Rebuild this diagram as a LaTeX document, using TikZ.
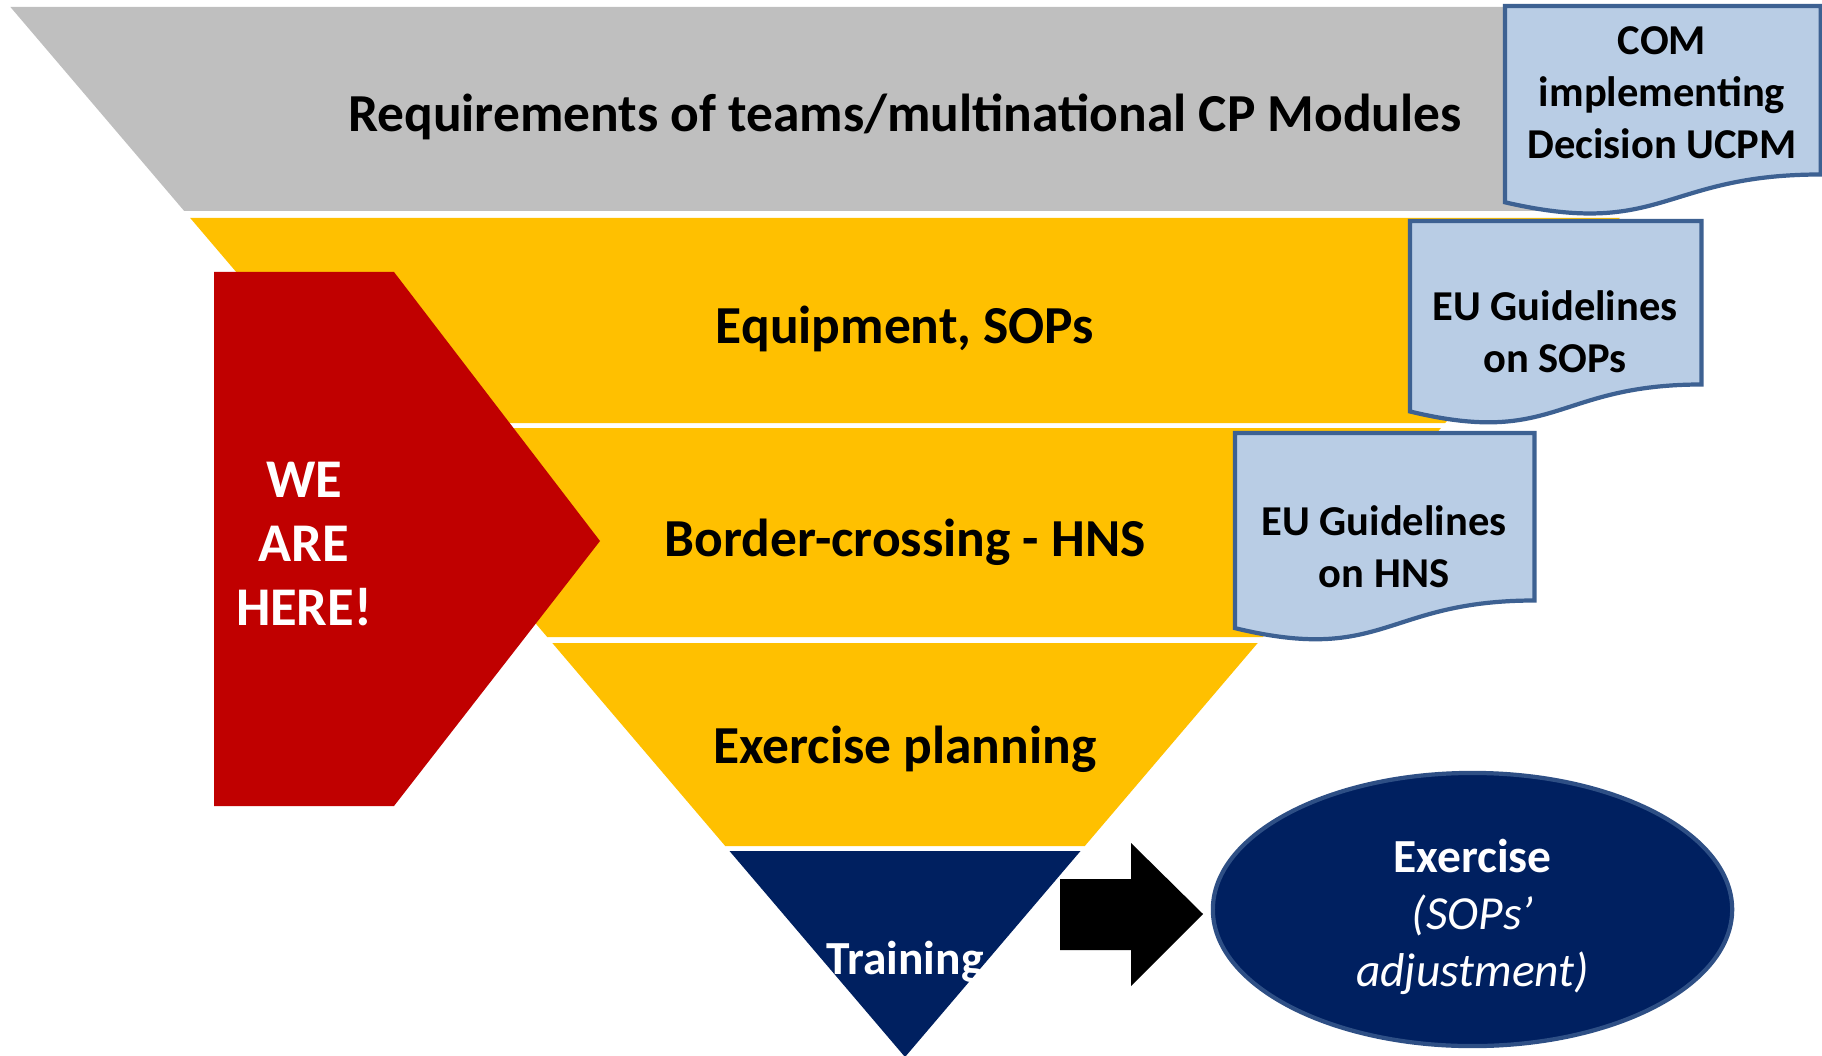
\documentclass[tikz,border=0pt]{standalone}
\usepackage{fontspec}
\setmainfont{Carlito}
\usepackage{tikz}
\usetikzlibrary{calc, shapes.geometric}
\definecolor{topgray}{HTML}{BFBFBF}
\definecolor{funnelyellow}{HTML}{FFC000}
\definecolor{herered}{HTML}{C00000}
\definecolor{navy}{HTML}{002060}
\definecolor{docfill}{HTML}{B9CDE5}
\definecolor{docedge}{HTML}{3D6192}
\definecolor{ovaledge}{HTML}{2E4F85}
\tikzset{%
    band/.style={%
        fill=funnelyellow,
    },
    bandtext/.style={%
        font=\fontsize{15.2}{18}\selectfont\bfseries,
        text=black,
        inner sep=0pt,
        text centered,
    },
    docbox/.style={%
        rectangle,
        draw=none,
        inner sep=0pt,
    },
    docshape/.style={%
        fill=docfill,
        draw=docedge,
        line width=1.2pt,
    },
    doctext/.style={%
        font=\fontsize{12.1}{14.8}\selectfont\bfseries,
        align=center,
        inner sep=0pt,
    },
    heretext/.style={%
        font=\fontsize{15.5}{18.2}\selectfont\bfseries,
        text=white,
        align=center,
        inner sep=0pt,
    },
    oval/.style={%
        ellipse,
        fill=navy,
        draw=ovaledge,
        line width=1.2pt,
        minimum width=5.19cm,
        minimum height=2.73cm,
    },
    ovaltext/.style={%
        text=white,
        align=center,
        inner sep=0pt,
        font=\fontsize{13.5}{16.3}\selectfont,
    },
}

\begin{document}
\begin{tikzpicture}[x=0.01cm, y=-0.01cm]
	\useasboundingbox (0,0) rectangle (1822,1055);

	% funnel bands
	\fill[topgray] (10.4,7) -- (1799.6,7) -- (1625.8,211) -- (184.2,211) -- cycle;
	\fill[band] (190.2,218) -- (1619.8,218) -- (1445.2,423) -- (364.8,423) -- cycle;
	\fill[band] (369.1,428) -- (1440.9,428) -- (1262.8,637) -- (547.2,637) -- cycle;
	\fill[band] (552.3,643) -- (1257.7,643) -- (1084.8,846) -- (725.2,846) -- cycle;
	\fill[navy] (729.5,851) -- (1080.5,851) -- (905,1057) -- cycle;

	\node [bandtext] (req) at (905,117) {Requirements of teams/multinational CP Modules};
	\node [bandtext] (equip) at (905,329) {Equipment, SOPs};
	\node [bandtext] (border) at (905,542) {Border-crossing - HNS};
	\node [bandtext] (planning) at (905,749) {Exercise planning};
	\node [bandtext, text=white, font=\fontsize{13.5}{16}\selectfont\bfseries] (training) at (905,962) {Training};

	% we are here
	\fill[herered] (214,272) -- (394,272) -- (600,541) -- (394,806) -- (214,806) -- cycle;
	\node [heretext] (here) at (304,544) {WE\\ARE\\HERE!};

	% documents
	\node [docbox, minimum width=3.14cm, minimum height=1.67cm, anchor=north west] (com) at (1505,6) {};
	\filldraw[docshape] (com.north west) -- (com.north east) -- (com.south east)
		.. controls (com.south) and ($(com.north)!1.381!(com.south)$) .. ($(com.north west)!1.165!(com.south west)$) -- cycle;
	\node [doctext] (comtext) at (1662,93) {COM\\implementing\\Decision UCPM};

	\node [docbox, minimum width=2.90cm, minimum height=1.62cm, anchor=north west] (sop) at (1410,221) {};
	\filldraw[docshape] (sop.north west) -- (sop.north east) -- (sop.south east)
		.. controls (sop.south) and ($(sop.north)!1.381!(sop.south)$) .. ($(sop.north west)!1.165!(sop.south west)$) -- cycle;
	\node [doctext] (soptext) at (1555,332) {EU Guidelines\\on SOPs};

	\node [docbox, minimum width=2.98cm, minimum height=1.66cm, anchor=north west] (hns) at (1235,433) {};
	\filldraw[docshape] (hns.north west) -- (hns.north east) -- (hns.south east)
		.. controls (hns.south) and ($(hns.north)!1.381!(hns.south)$) .. ($(hns.north west)!1.165!(hns.south west)$) -- cycle;
	\node [doctext] (hnstext) at (1384,547) {EU Guidelines\\on HNS};

	% block arrow to the exercise
	\fill[black] (1060,879) -- (1131,879) -- (1131,843) -- (1203,914) -- (1131,986) -- (1131,950) -- (1060,950) -- cycle;

	\node [oval] (exercise) at (1472.5,909.5) {};
	\node [ovaltext] (exertext) at (1472.5,917) {{\bfseries Exercise}\\{\itshape (SOPs’}\\{\itshape adjustment)}};
\end{tikzpicture}
\end{document}
